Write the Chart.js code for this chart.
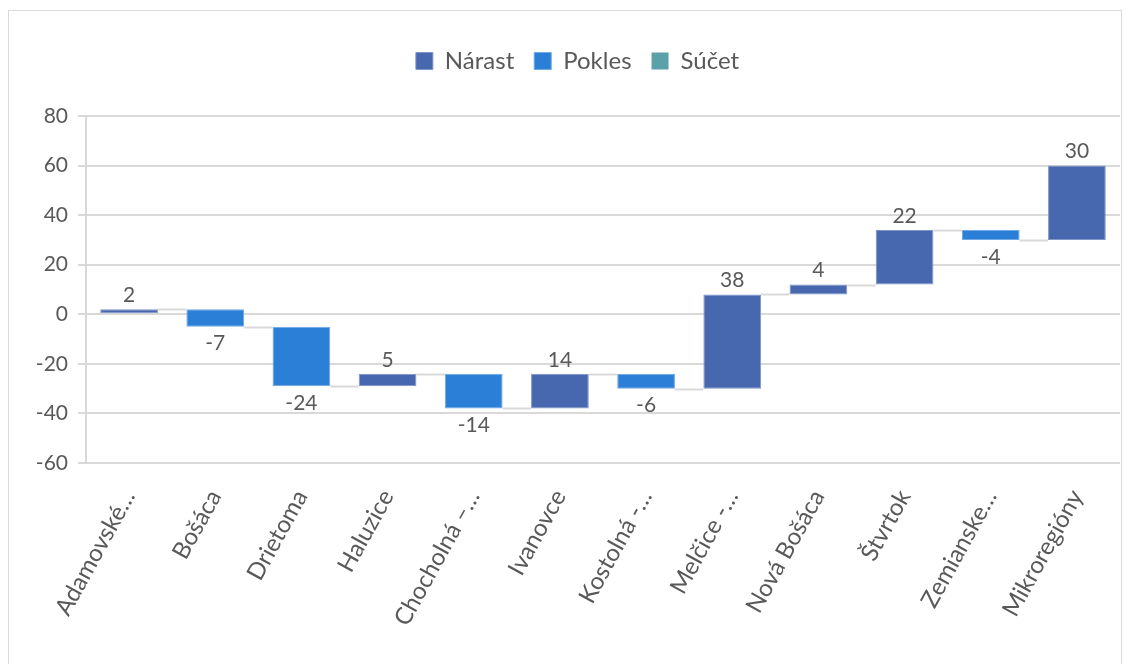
<!DOCTYPE html>
<html>
<head>
<meta charset="utf-8">
<script src="https://cdn.jsdelivr.net/npm/chart.js@4.4.1/dist/chart.umd.min.js"></script>
<style>
  body { margin: 0; background: #fff; }
  #frame { position: absolute; left: 8px; top: 10px; width: 1112px; height: 700px; border: 1px solid #d9d9d9; }
  #wrap { position: absolute; left: 9px; top: 11px; width: 1111px; height: 653px; }
</style>
</head>
<body>
<div id="frame"></div>
<div id="wrap"><canvas id="chart"></canvas></div>
<script>
var labels = ["Adamovské…", "Bošáca", "Drietoma", "Haluzice", "Chocholná –…", "Ivanovce",
  "Kostolná -…", "Melčice -…", "Nová Bošáca", "Štvrtok", "Zemianske…", "Mikroregióny"];
var changes = [2, -7, -24, 5, -14, 14, -6, 38, 4, 22, -4, 30];
var yTicks = { min: -60, max: 80, step: 20 };

// running totals for the floating bars
var starts = [];
var ends = [];
var run = 0;
changes.forEach(function (v) {
  starts.push(run);
  run += v;
  ends.push(run);
});

var upData = changes.map(function (v, i) {
  return v > 0 ? [starts[i], ends[i]] : null;
});
var downData = changes.map(function (v, i) {
  return v < 0 ? [starts[i], ends[i]] : null;
});

var textColor = "#595959";
var font = "Lato";

var waterfallExtras = {
  id: "waterfallExtras",
  beforeLayout: function (chart) {
    // leave a gap between legend and plot, like the original
    var lg = chart.legend;
    if (lg && !lg._padded) {
      var fit = lg.fit;
      lg.fit = function () {
        fit.call(this);
        this.height += 33;
      };
      lg._padded = true;
    }
  },
  afterLayout: function (chart) {
    // legend sits a little right of centre in the original
    if (chart.legend) {
      chart.legend.left += 13;
      chart.legend.right += 13;
    }
  },
  afterDatasetsDraw: function (chart) {
    var ctx = chart.ctx;
    var x = chart.scales.x;
    var y = chart.scales.y;
    var half = (x.getPixelForValue(1) - x.getPixelForValue(0)) * 0.67 / 2;
    ctx.save();
    // connectors
    ctx.strokeStyle = "#d9d9d9";
    ctx.lineWidth = 2;
    for (var i = 0; i < changes.length - 1; i++) {
      var py = Math.round(y.getPixelForValue(ends[i])) + 0.5;
      ctx.beginPath();
      ctx.moveTo(x.getPixelForValue(i) + half, py);
      ctx.lineTo(x.getPixelForValue(i + 1) - half, py);
      ctx.stroke();
    }
    // value labels
    ctx.fillStyle = textColor;
    ctx.font = "21px " + font;
    ctx.textAlign = "center";
    ctx.textBaseline = "middle";
    changes.forEach(function (v, i) {
      var px = x.getPixelForValue(i);
      if (v > 0) {
        ctx.fillText(String(v), px, y.getPixelForValue(ends[i]) - 14);
      } else {
        ctx.fillText(String(v), px, y.getPixelForValue(ends[i]) + 17);
      }
    });
    ctx.restore();
  },
};

new Chart("chart", {
  type: "bar",
  data: {
    labels: labels,
    datasets: [
      {
        label: "Nárast",
        data: upData,
        backgroundColor: "#4767ae",
        borderColor: "#7f95c8",
        borderWidth: 1,
        borderSkipped: false,
        grouped: false,
        barPercentage: 0.67,
        categoryPercentage: 1,
      },
      {
        label: "Pokles",
        data: downData,
        backgroundColor: "#2b7fd7",
        borderColor: "#6fa8e4",
        borderWidth: 1,
        borderSkipped: false,
        grouped: false,
        barPercentage: 0.67,
        categoryPercentage: 1,
      },
      {
        label: "Súčet",
        data: [],
        backgroundColor: "#5aa1a9",
        grouped: false,
      },
    ],
  },
  options: {
    maintainAspectRatio: false,
    animation: false,
    layout: { padding: { top: 18, left: 0, right: 0, bottom: 0 } },
    plugins: {
      legend: {
        display: true,
        position: "top",
        labels: {
          boxWidth: 17,
          boxHeight: 17,
          padding: 20,
          color: textColor,
          font: { family: font, size: 24 },
        },
      },
      tooltip: { enabled: false },
    },
    scales: {
      x: {
        grid: { display: false },
        border: { display: true, color: "#d9d9d9", width: 2 },
        ticks: {
          color: textColor,
          font: { family: font, size: 24 },
          minRotation: 61,
          maxRotation: 61,
          padding: 14,
          autoSkip: false,
        },
        afterFit: function (scale) {
          scale.height = 201;
        },
      },
      y: {
        min: yTicks.min,
        max: yTicks.max,
        grid: { color: "#d9d9d9", lineWidth: 2 },
        border: { display: true, color: "#d9d9d9", width: 2 },
        ticks: {
          stepSize: yTicks.step,
          color: textColor,
          padding: 10,
          font: { family: font, size: 21 },
        },
        afterFit: function (scale) {
          scale.width = 77;
        },
      },
    },
  },
  plugins: [waterfallExtras],
});
</script>
</body>
</html>
